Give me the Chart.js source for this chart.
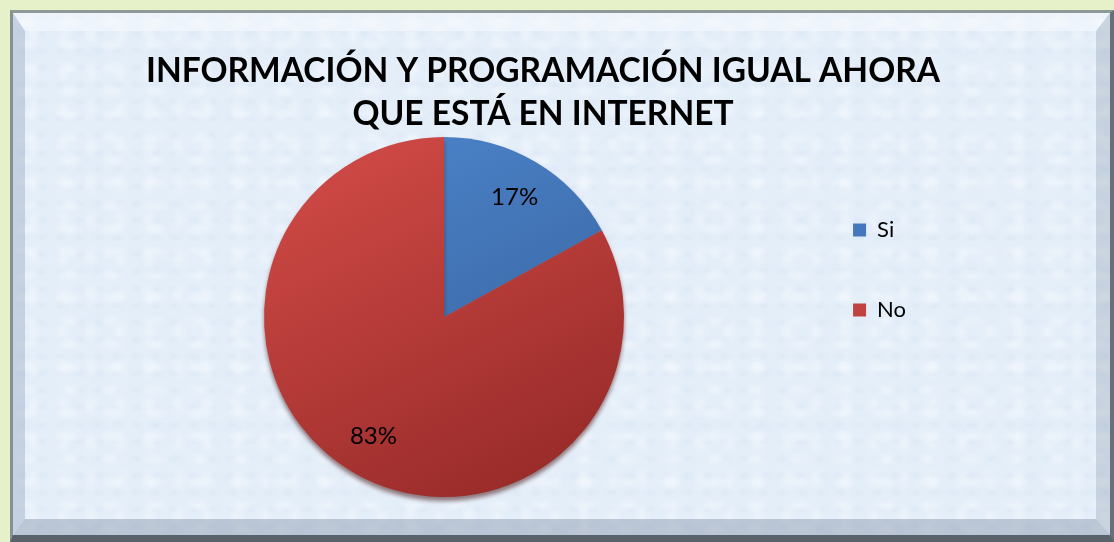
<!DOCTYPE html>
<html lang="es">
<head>
    <meta charset="UTF-8">
    <title>Información y programación igual ahora que está en internet</title>
    <script src="https://cdn.jsdelivr.net/npm/chart.js"></script>
    <style>
        body { margin: 0; width: 1114px; height: 542px; overflow: hidden; background: #e6f1c9; position: relative; }
        /* marco con bisel, como el gráfico de Excel */
        #frame {
            position: absolute; left: 10px; top: 10px; width: 1104px; height: 532px; box-sizing: border-box;
            border-left: 3px solid #85928f; border-top: 3px solid #8e9a98;
            border-right: 4px solid #66707a; border-bottom: 7px solid #59616b;
            background-color: #e4eef9;
            background-image:
                radial-gradient(ellipse 14px 7px at 30% 40%, rgba(255,255,255,.35), transparent),
                radial-gradient(ellipse 9px 13px at 70% 60%, rgba(255,255,255,.3), transparent),
                radial-gradient(ellipse 8px 5px at 50% 20%, rgba(205,220,240,.25), transparent),
                radial-gradient(ellipse 20px 12px at 20% 80%, rgba(218,230,245,.25), transparent);
            background-size: 43px 23px, 29px 37px, 19px 17px, 67px 53px;
        }
        #bevel {
            position: absolute; inset: 0; box-sizing: border-box;
            border-style: solid; border-width: 18px 14px 16px 12px;
            border-color: rgba(255,255,255,.4) rgba(130,145,165,.3) rgba(110,125,150,.35) rgba(150,168,192,.4);
        }
        #chart { position: absolute; left: 0; top: 0; }
    </style>
</head>
<body>
    <div id="frame"><div id="bevel"></div></div>
    <canvas id="chart" width="1114" height="542"></canvas>

    <script>
        // datos del gráfico
        const categorias = ['Si', 'No'];
        const valores = [17, 83];
        const titulo = ['INFORMACIÓN Y PROGRAMACIÓN IGUAL AHORA', 'QUE ESTÁ EN INTERNET'];

        const coloresSolidos = ['#4477bb', '#c0433f'];
        const degradados = [['#4c84cb', '#35609a'], ['#d04a46', '#982b29']];

        function colorSector(context) {
            const area = context.chart.chartArea;
            const i = context.dataIndex;
            if (!area) return coloresSolidos[i];
            const cx = (area.left + area.right) / 2, cy = (area.top + area.bottom) / 2;
            const r = Math.min(area.width, area.height) / 2;
            const g = context.chart.ctx.createLinearGradient(cx - r * 0.6, cy - r, cx + r * 0.4, cy + r);
            g.addColorStop(0, degradados[i][0]);
            g.addColorStop(1, degradados[i][1]);
            return g;
        }

        // el título de Excel queda centrado en todo el marco, no sobre el pastel
        const centrarTitulo = {
            id: 'centrarTitulo',
            afterLayout(chart) {
                if (chart.titleBlock) {
                    chart.titleBlock.left = 0;
                    chart.titleBlock.right = chart.width - 28;
                }
            }
        };

        // sombra inferior del pastel
        const sombra = {
            id: 'sombra',
            beforeDatasetsDraw(chart) {
                const ctx = chart.ctx;
                ctx.save();
                ctx.shadowColor = 'rgba(70,20,20,0.55)';
                ctx.shadowBlur = 4;
                ctx.shadowOffsetY = 4;
            },
            afterDatasetsDraw(chart) {
                chart.ctx.restore();
            }
        };

        // etiquetas de porcentaje dentro de cada sector
        const etiquetas = {
            id: 'etiquetas',
            afterDatasetsDraw(chart) {
                const ctx = chart.ctx;
                const meta = chart.getDatasetMeta(0);
                const total = valores.reduce((a, b) => a + b, 0);
                ctx.save();
                ctx.font = '24px Lato';
                ctx.fillStyle = '#000';
                ctx.textAlign = 'center';
                ctx.textBaseline = 'middle';
                meta.data.forEach((arc, i) => {
                    const p = arc.getProps(['x', 'y', 'startAngle', 'endAngle', 'outerRadius'], true);
                    const a = (p.startAngle + p.endAngle) / 2;
                    const r = p.outerRadius * 0.77;
                    ctx.fillText(Math.round(valores[i] / total * 100) + '%', p.x + Math.cos(a) * r, p.y + Math.sin(a) * r);
                });
                ctx.restore();
            }
        };

        new Chart(document.getElementById('chart'), {
            type: 'pie',
            data: {
                labels: categorias,
                datasets: [{
                    data: valores,
                    backgroundColor: colorSector,
                    borderWidth: 0
                }]
            },
            options: {
                responsive: false,
                animation: false,
                layout: { padding: { left: 93, right: 198, top: 50, bottom: 45 } },
                plugins: {
                    title: {
                        display: true,
                        text: titulo,
                        color: '#000',
                        font: { family: 'Lato', size: 33.5, weight: 'bold', lineHeight: 43 / 33.5 },
                        padding: { top: 0, bottom: 1 }
                    },
                    legend: {
                        position: 'right',
                        align: 'start',
                        title: { display: true, text: ' ', font: { size: 10, lineHeight: 1 }, padding: { top: 101, bottom: 0 } },
                        labels: {
                            color: '#000',
                            font: { family: 'Lato', size: 22 },
                            boxWidth: 13,
                            boxHeight: 13,
                            padding: 58,
                            generateLabels(chart) {
                                const items = Chart.overrides.pie.plugins.legend.labels.generateLabels(chart);
                                items.forEach((it, i) => { it.fillStyle = coloresSolidos[i]; it.strokeStyle = coloresSolidos[i]; it.lineWidth = 0; });
                                return items;
                            }
                        }
                    },
                    tooltip: { enabled: false }
                }
            },
            plugins: [centrarTitulo, sombra, etiquetas]
        });
    </script>
</body>
</html>
